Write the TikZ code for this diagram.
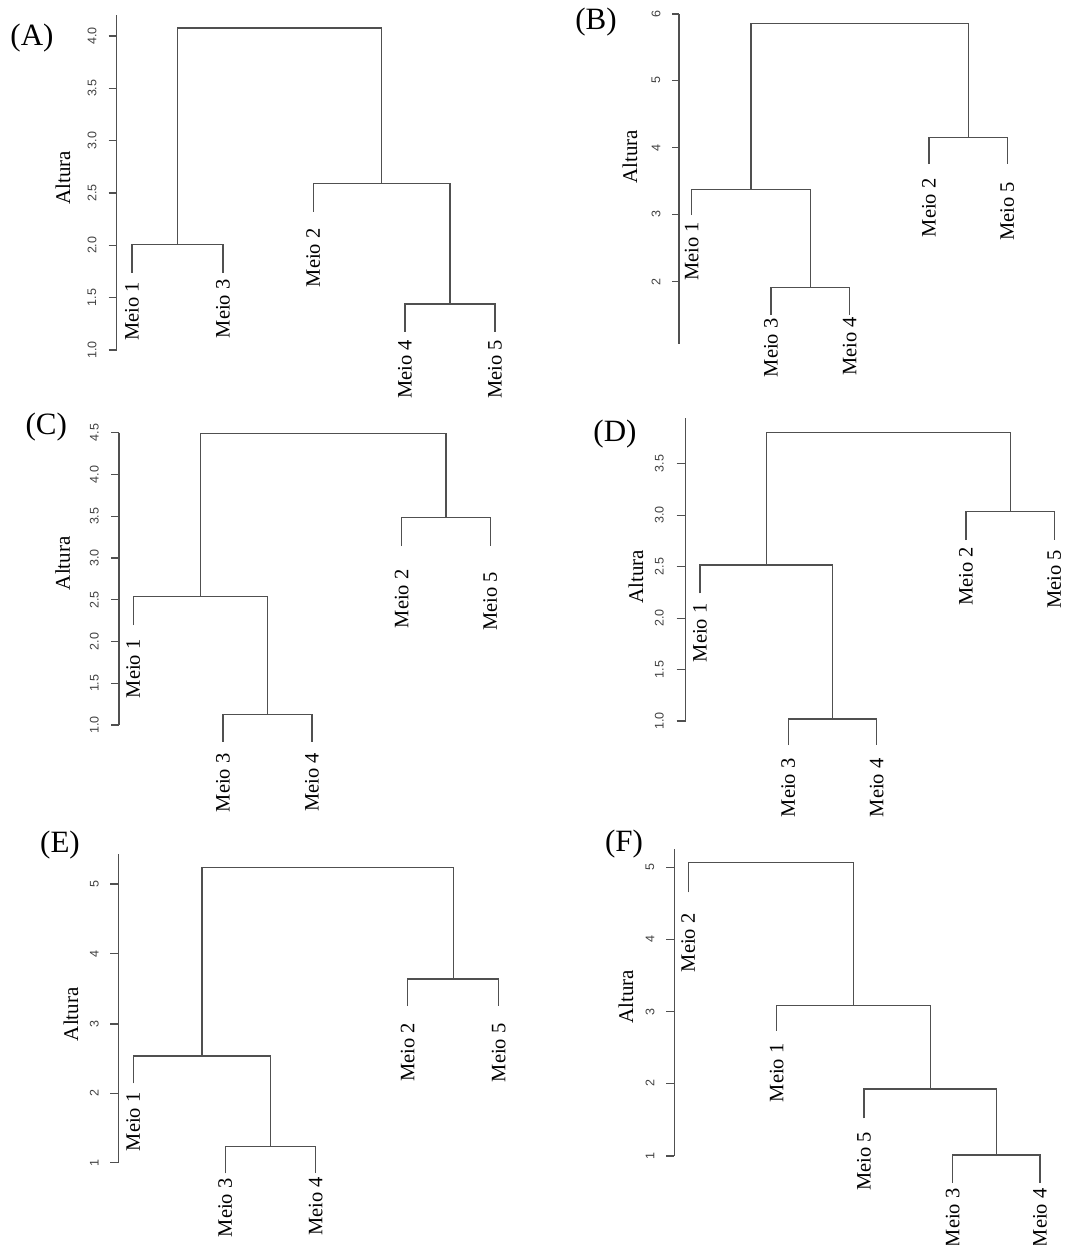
\documentclass[tikz,border=0pt]{standalone}
\usepackage{fontspec}
\setmainfont{Liberation Serif}
\newfontfamily\ticksans{Liberation Sans}
\usepackage{tikz}
\definecolor{treegray}{HTML}{505050}
\definecolor{tickgray}{HTML}{404040}

\begin{document}
\begin{tikzpicture}[x=1pt, y=-1pt,
    tree/.style={draw=treegray, line width=1.2pt},
    axisline/.style={draw=treegray, line width=1.1pt},
    meio/.style={rotate=90, anchor=east, inner sep=0pt, font=\fontsize{20.5}{24}\selectfont},
    ticklab/.style={rotate=90, inner sep=0pt, text=tickgray, font=\ticksans\fontsize{12.5}{14}\selectfont},
    altura/.style={rotate=90, inner sep=0pt, font=\fontsize{21}{24}\selectfont},
    panel/.style={inner sep=0pt, font=\fontsize{31}{34}\selectfont}]
\useasboundingbox (0,0) rectangle (1075,1245);

\node[panel] (pA) at (32,38) {(A)};
\node[altura] (altA) at (63,178) {Altura};
\draw[axisline] (116.7,15) -- (116.7,350);
\foreach \y/\lab [count=\i] in {36/4.0, 88.3/3.5, 140.7/3.0, 193/2.5, 245.3/2.0, 297.7/1.5, 350/1.0} {
    \draw[axisline] (108.7,\y) -- (116.7,\y);
    \node[ticklab] (tkA\i) at (92,\y) {\lab};
}
\node[meio] (A1) at (132,281.7) {Meio 1};
\node[meio] (A3) at (223,279.3) {Meio 3};
\node[meio] (A2) at (313.3,228.3) {Meio 2};
\node[meio] (A4) at (405,340) {Meio 4};
\node[meio] (A5) at (495,340) {Meio 5};
\coordinate (A1t) at (132,272.7);
\coordinate (A3t) at (223,272.7);
\coordinate (A2t) at (313.3,211.7);
\coordinate (A4t) at (405,331.7);
\coordinate (A5t) at (495,331.7);
\coordinate (A13) at (177.5,244.7);
\coordinate (A45) at (450,304);
\coordinate (A245) at (381.7,183.3);
\coordinate (Atop) at (279.6,28);
\draw[tree] (A1t) |- (A13) -| (A3t);
\draw[tree] (A4t) |- (A45) -| (A5t);
\draw[tree] (A2t) |- (A245) -| (A45);
\draw[tree] (A13) |- (Atop) -| (A245);

\node[panel] (pB) at (596,22) {(B)};
\node[altura] (altB) at (630,157) {Altura};
\draw[axisline] (679,14) -- (679,344);
\foreach \y/\lab [count=\i] in {14/6, 80.3/5, 147.7/4, 214.3/3, 281.7/2} {
    \draw[axisline] (672,\y) -- (679,\y);
    \node[ticklab] (tkB\i) at (656,\y) {\lab};
}
\node[meio] (B1) at (691.7,221.7) {Meio 1};
\node[meio] (B3) at (771,318.3) {Meio 3};
\node[meio] (B4) at (849.7,316.7) {Meio 4};
\node[meio] (B2) at (929,178.3) {Meio 2};
\node[meio] (B5) at (1007.3,181.7) {Meio 5};
\coordinate (B1t) at (691.7,215);
\coordinate (B3t) at (771,315);
\coordinate (B4t) at (849.7,315);
\coordinate (B2t) at (929,164);
\coordinate (B5t) at (1007.3,164);
\coordinate (B34) at (810.3,287.3);
\coordinate (B134) at (751,189.3);
\coordinate (B25) at (968.2,137.7);
\coordinate (Btop) at (859.6,23.7);
\draw[tree] (B3t) |- (B34) -| (B4t);
\draw[tree] (B1t) |- (B134) -| (B34);
\draw[tree] (B2t) |- (B25) -| (B5t);
\draw[tree] (B134) |- (Btop) -| (B25);

\node[panel] (pC) at (46.3,427.3) {(C)};
\node[altura] (altC) at (62.7,563.3) {Altura};
\draw[axisline] (119,432.7) -- (119,725);
\foreach \y/\lab [count=\i] in {432.7/4.5, 474.5/4.0, 516.3/3.5, 558/3.0, 599.8/2.5, 641.5/2.0, 683.3/1.5, 725/1.0} {
    \draw[axisline] (111,\y) -- (119,\y);
    \node[ticklab] (tkC\i) at (94.3,\y) {\lab};
}
\node[meio] (C1) at (133.3,639.3) {Meio 1};
\node[meio] (C3) at (223,753.3) {Meio 3};
\node[meio] (C4) at (312,752.7) {Meio 4};
\node[meio] (C2) at (401.7,569.3) {Meio 2};
\node[meio] (C5) at (490.3,571.7) {Meio 5};
\coordinate (C1t) at (133.3,625);
\coordinate (C3t) at (223,741.7);
\coordinate (C4t) at (312,741.7);
\coordinate (C2t) at (401.7,546);
\coordinate (C5t) at (490.3,546);
\coordinate (C34) at (267.5,714.3);
\coordinate (C134) at (200.4,596.7);
\coordinate (C25) at (446,517.3);
\coordinate (Ctop) at (323.2,433.7);
\draw[tree] (C3t) |- (C34) -| (C4t);
\draw[tree] (C1t) |- (C134) -| (C34);
\draw[tree] (C2t) |- (C25) -| (C5t);
\draw[tree] (C134) |- (Ctop) -| (C25);

\node[panel] (pD) at (615,434) {(D)};
\node[altura] (altD) at (636,576.7) {Altura};
\draw[axisline] (685.7,418.3) -- (685.7,721);
\foreach \y/\lab [count=\i] in {463.7/3.5, 515.2/3.0, 566.7/2.5, 618.1/2.0, 669.6/1.5, 721/1.0} {
    \draw[axisline] (676.7,\y) -- (685.7,\y);
    \node[ticklab] (tkD\i) at (659.3,\y) {\lab};
}
\node[meio] (D1) at (700,603.3) {Meio 1};
\node[meio] (D3) at (788.3,758.3) {Meio 3};
\node[meio] (D4) at (876.7,758.3) {Meio 4};
\node[meio] (D2) at (966,546.7) {Meio 2};
\node[meio] (D5) at (1054.3,550) {Meio 5};
\coordinate (D1t) at (700,593.3);
\coordinate (D3t) at (788.3,745);
\coordinate (D4t) at (876.7,745);
\coordinate (D2t) at (966,540);
\coordinate (D5t) at (1054.3,540);
\coordinate (D34) at (832.5,719);
\coordinate (D134) at (766.3,565);
\coordinate (D25) at (1010.2,511.7);
\coordinate (Dtop) at (888.2,432.3);
\draw[tree] (D3t) |- (D34) -| (D4t);
\draw[tree] (D1t) |- (D134) -| (D34);
\draw[tree] (D2t) |- (D25) -| (D5t);
\draw[tree] (D134) |- (Dtop) -| (D25);

\node[panel] (pE) at (60,845) {(E)};
\node[altura] (altE) at (71,1014.3) {Altura};
\draw[axisline] (118.3,854.3) -- (118.3,1162.7);
\foreach \y/\lab [count=\i] in {884/5, 953.7/4, 1024/3, 1093.3/2, 1162.7/1} {
    \draw[axisline] (110.3,\y) -- (118.3,\y);
    \node[ticklab] (tkE\i) at (94.3,\y) {\lab};
}
\node[meio] (E1) at (133.3,1092.3) {Meio 1};
\node[meio] (E3) at (225.3,1178.3) {Meio 3};
\node[meio] (E4) at (315.7,1176.7) {Meio 4};
\node[meio] (E2) at (407.7,1022.7) {Meio 2};
\node[meio] (E5) at (498.7,1023.3) {Meio 5};
\coordinate (E1t) at (133.3,1083.3);
\coordinate (E3t) at (225.3,1173.3);
\coordinate (E4t) at (315.7,1173.3);
\coordinate (E2t) at (407.7,1006);
\coordinate (E5t) at (498.7,1006);
\coordinate (E34) at (270.5,1146.7);
\coordinate (E134) at (201.9,1056);
\coordinate (E25) at (453.2,979);
\coordinate (Etop) at (327.6,867.7);
\draw[tree] (E3t) |- (E34) -| (E4t);
\draw[tree] (E1t) |- (E134) -| (E34);
\draw[tree] (E2t) |- (E25) -| (E5t);
\draw[tree] (E134) |- (Etop) -| (E25);

\node[panel] (pF) at (624,844) {(F)};
\node[altura] (altF) at (626,996.7) {Altura};
\draw[axisline] (674.3,849) -- (674.3,1156);
\foreach \y/\lab [count=\i] in {867.3/5, 939.3/4, 1011.7/3, 1083.3/2, 1156/1} {
    \draw[axisline] (666.3,\y) -- (674.3,\y);
    \node[ticklab] (tkF\i) at (650,\y) {\lab};
}
\node[meio] (F2) at (688.3,913.3) {Meio 2};
\node[meio] (F1) at (776.7,1043.3) {Meio 1};
\node[meio] (F5) at (864,1131.7) {Meio 5};
\node[meio] (F3) at (952.7,1188.3) {Meio 3};
\node[meio] (F4) at (1040,1188.3) {Meio 4};
\coordinate (F2t) at (688.3,892.3);
\coordinate (F1t) at (776.7,1030.7);
\coordinate (F5t) at (864,1118.3);
\coordinate (F3t) at (952.7,1182.7);
\coordinate (F4t) at (1040,1182.7);
\coordinate (F34) at (996.4,1155);
\coordinate (F534) at (930.2,1089);
\coordinate (F1534) at (853.5,1005.7);
\coordinate (Ftop) at (770.9,862.7);
\draw[tree] (F3t) |- (F34) -| (F4t);
\draw[tree] (F5t) |- (F534) -| (F34);
\draw[tree] (F1t) |- (F1534) -| (F534);
\draw[tree] (F2t) |- (Ftop) -| (F1534);
\end{tikzpicture}
\end{document}
